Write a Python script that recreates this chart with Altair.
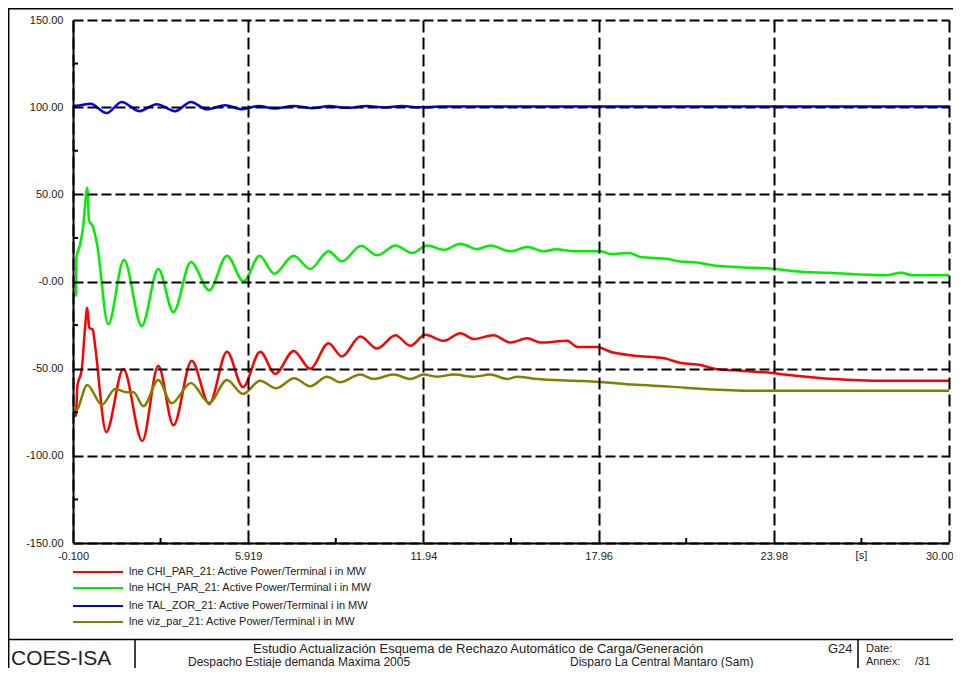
import altair as alt
import pandas as pd

# ---------------- data ----------------
series_names = [
    "lne CHI_PAR_21: Active Power/Terminal i in MW",
    "lne HCH_PAR_21: Active Power/Terminal i in MW",
    "lne TAL_ZOR_21: Active Power/Terminal i in MW",
    "lne viz_par_21: Active Power/Terminal i in MW",
]
series_colors = ["#ff0000", "#00ee00", "#0000ff", "#808000"]

t_red = [-0.1, 0.0, 0.05, 0.2, 0.31, 0.39, 0.46, 0.58, 0.66, 1.04, 1.63, 2.28, 2.83, 3.35, 3.98, 4.58,
         5.19, 5.74, 6.33, 6.85, 7.48, 8.05, 8.68, 9.14, 9.77, 10.35, 10.98, 11.49, 12.0, 12.64, 13.21,
         13.67, 14.35, 14.93, 15.51, 15.96, 16.88, 17.23, 17.9, 18.37, 19.2, 20.2, 20.8, 21.47, 21.98,
         22.84, 23.93, 24.33, 25.08, 26.05, 27.77, 30.0]
v_red = [-77, -77, -60, -50.5, -27.5, -15, -26.5, -27.7, -37, -86.3, -50.2, -91.5, -48.3, -82.5, -45.5,
         -70.2, -40.3, -60.6, -40.3, -53, -39.8, -50, -35.4, -43, -31.6, -38.4, -30.8, -36.9, -30.6, -34,
         -29.7, -33, -30.8, -35, -32.5, -35, -34, -37.5, -37.5, -40.3, -42.6, -44, -46.8, -47.9, -50.2,
         -51.2, -52.5, -53.4, -54.6, -55.9, -56.9, -56.9]

t_green = [-0.1, 0.0, 0.02, 0.14, 0.25, 0.39, 0.45, 0.58, 0.72, 1.11, 1.65, 2.26, 2.83, 3.35, 3.95, 4.58,
           5.19, 5.76, 6.31, 6.81, 7.48, 8.05, 8.68, 9.14, 9.80, 10.35, 10.98, 11.55, 12.07, 12.64, 13.21,
           13.79, 14.24, 14.93, 15.51, 16.08, 16.5, 17.11, 18.03, 18.37, 19.0, 19.4, 20.37, 20.7, 21.4,
           21.87, 22.79, 24.05, 24.68, 25.88, 27.83, 28.35, 28.75, 30.0]
v_green = [-8, -8, 14, 21, 31.7, 53.8, 35, 31.7, 22, -24.5, 12.5, -25.5, 7.2, -17.5, 11.2, -5, 14.8, 0,
           14.8, 4.5, 14.8, 7.2, 17.3, 11.6, 20.5, 15, 20.7, 16.4, 20.7, 18.2, 21.7, 18.6, 20.7, 17.3,
           19.8, 17.3, 18.5, 17.3, 17.3, 15.8, 16.4, 14.1, 12.9, 11.6, 10.7, 9.3, 8.2, 7.2, 5.9, 5.0, 3.6,
           5.0, 3.6, 3.6]

t_blue = [-0.1, 0.0, 0.5, 1.06, 1.57, 2.18, 2.78, 3.41, 3.95, 4.5, 5.13, 5.71, 6.28, 6.82, 7.48, 8.1,
          8.7, 9.3, 10.0, 10.6, 11.2, 11.8, 12.5, 30.0]
v_blue = [100.8, 100.8, 101.9, 96.6, 103, 97.7, 101.7, 97.7, 103, 98.8, 101.1, 98.8, 100.7, 99.2, 100.7,
          99.4, 100.6, 99.6, 100.6, 99.8, 100.6, 99.9, 100.4, 100.4]

t_olive = [-0.1, 0.0, 0.39, 0.89, 1.35, 1.75, 1.98, 2.32, 2.83, 3.29, 3.95, 4.58, 5.19, 5.74, 6.33, 6.88,
           7.5, 8.05, 8.63, 9.08, 9.77, 10.23, 10.92, 11.49, 11.95, 12.41, 12.98, 13.67, 14.24, 14.82,
           15.16, 15.85, 17.11, 18.14, 19.12, 20.44, 21.58, 23.2, 23.65, 30.0]
v_olive = [-74, -74, -59.3, -70.7, -61.6, -63.5, -63.5, -71.5, -56.5, -69.8, -58.2, -69.6, -56.5, -64.5,
           -56.9, -61.2, -55.5, -60.1, -54.6, -57.8, -53.4, -55.9, -53.4, -55.9, -53.4, -54.6, -53.4,
           -54.6, -53.4, -55.9, -54.6, -55.9, -56.9, -57.8, -59.1, -60.3, -61.6, -62.6, -62.6, -62.6]

x_ticks = [-0.1, 5.919, 11.94, 17.96, 23.98, 30.0]
x_tick_labels = ["-0.100", "5.919", "11.94", "17.96", "23.98", "30.00"]
x_minor = [2.9095, 8.9295, 14.95, 20.97, 26.99]
x_unit_pos = [26.99]
x_unit_label = ["[s]"]

y_ticks = [-150, -100, -50, 0, 50, 100, 150]
y_tick_labels = ["-150.00", "-100.00", "-50.00", "-0.00", "50.00", "100.00", "150.00"]
y_minor = [-125, -75, -25, 25, 75, 125]

title_line1 = "Estudio Actualización Esquema de Rechazo Automático de Carga/Generación"
title_line2 = "Despacho Estiaje demanda Maxima 2005"
title_line3 = "Disparo La Central Mantaro (Sam)"
company = "COES-ISA"
graph_id = "G24"

# ---------------- build ----------------
rows = []
for name, ts, vs in zip(series_names, [t_red, t_green, t_blue, t_olive], [v_red, v_green, v_blue, v_olive]):
    assert len(ts) == len(vs)
    for t, v in zip(ts, vs):
        rows.append({"series": name, "t": t, "v": v})
df = pd.DataFrame(rows)

W, H = 876, 523
LEFT, TOP, RIGHT, BOTTOM = 65, 12, 4, 125
FONT = "Liberation Sans"


def label_expr(vals, labels):
    return "".join(f"datum.value == {v} ? '{l}' : " for v, l in zip(vals, labels)) + "''"


xscale = alt.Scale(domain=[-0.1, 30.0], nice=False, zero=False)
yscale = alt.Scale(domain=[-150, 150], nice=False, zero=False)
last_x = x_ticks[-1]

lines = alt.Chart(df).mark_line(strokeWidth=2.5, interpolate="monotone").encode(
    x=alt.X("t:Q", scale=xscale, axis=alt.Axis(
        values=x_ticks, labelExpr=label_expr(x_ticks, x_tick_labels), title=None,
        grid=True, gridDash=[12, 5], gridColor="black", gridWidth=2,
        domainColor="black", domainWidth=2, ticks=False, labelPadding=7,
        labelFontSize=11, labelColor="#222", labelFont=FONT, labelFlush=False,
        labelAlign={"condition": {"test": f"datum.value == {last_x}", "value": "right"}, "value": "center"},
        labelOffset={"condition": {"test": f"datum.value == {last_x}", "value": 4}, "value": 0},
        labelOverlap=False, labelBound=False, zindex=1)),
    y=alt.Y("v:Q", scale=yscale, axis=alt.Axis(
        values=y_ticks, labelExpr=label_expr(y_ticks, y_tick_labels), title=None,
        grid=True, gridDash=[10, 4], gridColor="black", gridWidth=2,
        domainColor="black", domainWidth=2, ticks=False, labelPadding=10,
        labelFontSize=11, labelColor="#222", labelFont=FONT, labelFlush=False,
        labelOverlap=False, zindex=1)),
    color=alt.Color("series:N", scale=alt.Scale(domain=series_names, range=series_colors), legend=None),
)

xminor = alt.Chart(pd.DataFrame({"t": x_minor})).mark_rule(color="black", strokeWidth=2).encode(
    x=alt.X("t:Q", scale=xscale), y=alt.value(H), y2=alt.value(H - 5))
yminor = alt.Chart(pd.DataFrame({"v": y_minor})).mark_rule(color="black", strokeWidth=2).encode(
    y=alt.Y("v:Q", scale=yscale), x=alt.value(0), x2=alt.value(5))
unit = alt.Chart(pd.DataFrame({"t": x_unit_pos, "label": x_unit_label})).mark_text(
    fontSize=11, font=FONT, color="#222", baseline="middle", align="center").encode(
    x=alt.X("t:Q", scale=xscale), y=alt.value(H + 13), text="label:N")

one = pd.DataFrame({"k": [0]})
layers = [lines, xminor, yminor, unit]

# legend (manual)
leg_y = [552, 568, 586, 602]
for name, col, yy in zip(series_names, series_colors, leg_y):
    layers.append(alt.Chart(one).mark_rule(color=col, strokeWidth=2).encode(
        x=alt.value(0), x2=alt.value(50), y=alt.value(yy)))
    layers.append(alt.Chart(one).mark_text(text=name, fontSize=11, font=FONT, color="#222",
                                           align="left", baseline="middle").encode(
        x=alt.value(56), y=alt.value(yy)))

# frame and title block
def hrule(x1, x2, y, w=1.5):
    return alt.Chart(one).mark_rule(color="black", strokeWidth=w).encode(
        x=alt.value(x1), x2=alt.value(x2), y=alt.value(y))


def vrule(x, y1, y2, w=1.5):
    return alt.Chart(one).mark_rule(color="black", strokeWidth=w).encode(
        x=alt.value(x), y=alt.value(y1), y2=alt.value(y2))


def txt(s, x, y, size=13, align="left"):
    return alt.Chart(one).mark_text(text=s, fontSize=size, font=FONT, color="#222",
                                    align=align, baseline="middle").encode(
        x=alt.value(x), y=alt.value(y))


XR = W + RIGHT
YB = H + BOTTOM
layers += [
    hrule(-LEFT, XR, -TOP + 0.7),
    vrule(-LEFT + 0.7, -TOP, YB),
    hrule(-LEFT, XR, 619.5),
    vrule(62, 619.5, YB),
    vrule(785, 619.5, YB),
    txt(company, -62, 639, size=21),
    txt(title_line1, 180, 628.5),
    txt(graph_id, 755, 628.5),
    txt(title_line2, 115, 642, size=12),
    txt(title_line3, 497, 642, size=12),
    txt("Date:", 793, 628.5, size=11),
    txt("Annex:", 793, 642, size=11),
    txt("/31", 842, 642, size=11),
]

chart = alt.layer(*layers).properties(
    width=W, height=H,
    padding={"left": LEFT, "top": TOP, "right": RIGHT, "bottom": BOTTOM},
    autosize=alt.AutoSizeParams(type="none"),
    background="white",
).configure_view(stroke=None)

chart.save("out.html", embed_options={"renderer": "svg", "actions": False})
